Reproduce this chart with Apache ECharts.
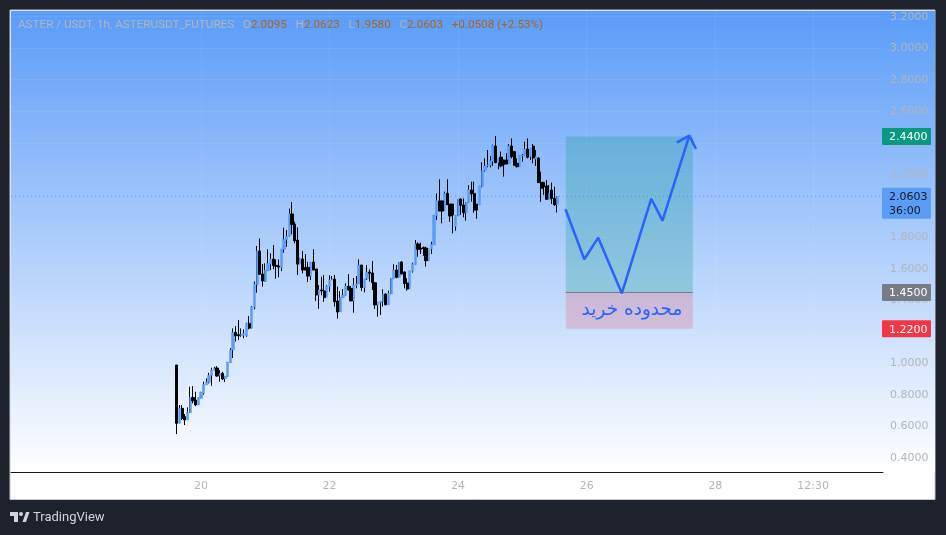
<!DOCTYPE html>
<html><head><meta charset="utf-8">
<style>html,body{margin:0;padding:0;background:#1e222d}#c{width:946px;height:535px}</style>
<script src="https://cdn.jsdelivr.net/npm/echarts@6/dist/echarts.min.js"></script>
</head><body><div id="c"></div>
<script>
const firstHour = -9; // hours relative to day 20 00:00
const opens = [.990,.620,.715,.662,.641,.687,.784,.768,.736,.778,
.810,.863,.880,.924,.956,.971,.924,.937,.903,.916,
1.004,1.085,1.197,1.182,1.178,1.178,1.176,1.254,1.224,1.356,
1.499,1.713,1.567,1.520,1.588,1.630,1.662,1.622,1.618,1.607,
1.724,1.785,1.808,1.948,1.884,1.783,1.630,1.662,1.609,1.609,
1.554,1.643,1.599,1.434,1.466,1.459,1.421,1.487,1.529,1.535,
1.396,1.326,1.417,1.432,1.491,1.476,1.396,1.495,1.504,1.624,
1.481,1.536,1.580,1.574,1.512,1.371,1.385,1.392,1.440,1.371,
1.440,1.536,1.593,1.546,1.643,1.580,1.510,1.472,1.584,1.627,
1.758,1.730,1.736,1.732,1.652,1.726,1.751,1.937,2.031,2.031,
1.969,2.079,2.011,2.011,1.868,1.935,2.043,2.005,1.956,2.020,
2.100,2.079,2.011,2.005,2.122,2.223,2.253,2.257,2.282,2.379,
2.274,2.308,2.291,2.291,2.265,2.379,2.344,2.269,2.248,2.316,
2.318,2.360,2.312,2.379,2.297,2.303,2.149,2.149,2.126,2.041,
2.100,2.047,2.0095];
const closes = [.620,.715,.651,.641,.691,.784,.763,.736,.784,.818,
.867,.884,.924,.958,.968,.920,.937,.901,.920,1.009,
1.085,1.197,1.176,1.176,1.182,1.191,1.254,1.224,1.360,1.504,
1.713,1.565,1.523,1.592,1.635,1.662,1.620,1.616,1.611,1.726,
1.787,1.806,1.948,1.882,1.779,1.630,1.662,1.592,1.592,1.554,
1.643,1.592,1.434,1.466,1.461,1.417,1.491,1.529,1.535,1.391,
1.326,1.419,1.434,1.491,1.466,1.396,1.497,1.504,1.624,1.481,
1.536,1.578,1.572,1.512,1.371,1.388,1.396,1.440,1.371,1.445,
1.540,1.593,1.546,1.643,1.567,1.506,1.472,1.588,1.631,1.758,
1.724,1.724,1.728,1.652,1.728,1.756,1.942,2.033,1.967,1.967,
2.079,2.007,1.935,1.942,1.940,2.043,2.003,1.956,2.022,2.100,
2.075,1.973,1.973,2.126,2.223,2.253,2.259,2.286,2.382,2.274,
2.301,2.253,2.261,2.265,2.379,2.312,2.257,2.248,2.320,2.322,
2.360,2.308,2.365,2.303,2.312,2.147,2.111,2.121,2.041,2.079,
2.047,2.007,2.0603];
const highs = [.990,.736,.736,.679,.721,.852,.856,.820,.784,.820,
.884,.905,.941,.973,.979,.983,.958,.947,.920,1.009,
1.097,1.222,1.237,1.275,1.222,1.216,1.258,1.301,1.364,1.520,
1.745,1.793,1.630,1.635,1.724,1.698,1.751,1.660,1.660,1.726,
1.861,1.846,1.982,2.024,1.899,1.863,1.666,1.713,1.694,1.645,
1.643,1.724,1.599,1.497,1.550,1.561,1.497,1.559,1.554,1.561,
1.487,1.459,1.472,1.508,1.567,1.491,1.542,1.554,1.660,1.624,
1.536,1.624,1.597,1.650,1.512,1.388,1.396,1.470,1.445,1.462,
1.540,1.629,1.624,1.643,1.648,1.584,1.540,1.588,1.639,1.783,
1.768,1.766,1.741,1.741,1.728,1.772,1.942,2.079,2.168,2.031,
2.090,2.168,2.011,2.011,1.940,2.043,2.047,2.047,2.022,2.130,
2.153,2.153,2.011,2.126,2.276,2.301,2.354,2.316,2.388,2.443,
2.301,2.344,2.291,2.333,2.392,2.428,2.344,2.301,2.320,2.329,
2.407,2.428,2.365,2.392,2.354,2.308,2.217,2.149,2.164,2.132,
2.147,2.121,2.0623];
const lows = [.552,.620,.641,.609,.641,.687,.746,.729,.736,.778,
.801,.863,.873,.858,.956,.916,.884,.894,.882,.916,
1.004,1.034,1.138,1.148,1.169,1.159,1.169,1.216,1.222,1.343,
1.449,1.561,1.487,1.518,1.588,1.592,1.597,1.537,1.546,1.586,
1.702,1.740,1.804,1.819,1.762,1.561,1.630,1.571,1.592,1.516,
1.529,1.592,1.396,1.347,1.432,1.391,1.421,1.455,1.529,1.360,
1.284,1.326,1.417,1.432,1.461,1.396,1.322,1.476,1.504,1.459,
1.451,1.529,1.519,1.466,1.345,1.297,1.307,1.360,1.371,1.371,
1.440,1.536,1.540,1.546,1.567,1.476,1.462,1.472,1.576,1.627,
1.677,1.694,1.682,1.614,1.652,1.694,1.751,1.910,1.967,1.889,
1.969,2.007,1.899,1.825,1.842,1.935,1.942,1.927,1.906,2.020,
2.026,1.956,1.918,2.005,2.117,2.217,2.244,2.244,2.253,2.270,
2.231,2.244,2.185,2.265,2.265,2.301,2.253,2.244,2.248,2.280,
2.318,2.301,2.291,2.270,2.253,2.147,2.026,2.069,2.037,2.041,
2.011,1.999,1.958];

const priceTicks = [0.4,0.6,0.8,1.0,1.2,1.4,1.6,1.8,2.0,2.2,2.4,2.6,2.8,3.0,3.2];
const timeTicks = [0,48,96,144,192,228.5];
const timeLabels = ['20','22','24','26','28','12:30'];

const zoneHours = [136.2,183.6];
const targetTop = 2.44, entryLevel = 1.45, stopLevel = 1.22;
const pathHours = [136.1,143.1,148.3,157.1,168.1,172.3,182.3];
const pathPrices = [1.978,1.661,1.798,1.445,2.045,1.906,2.445];
const arrowHours = [177.6,182.3,184.8];
const arrowPrices = [2.401,2.445,2.361];
const zoneText = 'محدوده خرید';
const lastPrice = 2.0603;
const tagPrices = [2.44,2.0603,1.45,1.22];
const tagTexts = ['2.4400','2.0603','1.4500','1.2200'];
const tagColors = ['#089981','#5b9cf6','#787b86','#f23645'];

const hourMin = -70.9, hourMax = 254.6, priceMin = 0.311, priceMax = 3.236;
const UP = '#5b9cf6', FONT = '"DejaVu Sans",sans-serif';

const candle = (o,i)=>[firstHour+i,o,closes[i],lows[i],highs[i]];
const upCandles = opens.map(candle).filter(d=>d[2]>=d[1]);
const downCandles = opens.map(candle).filter(d=>d[2]<d[1]);
const upBodies = upCandles.map(d=>[d[0],d[1],d[2],d[1],d[2]]);

const chart = echarts.init(document.getElementById('c'),null,{renderer:'canvas'});
chart.setOption({
  animation:false,
  backgroundColor:'#1e222d',
  title:{left:18,top:19,padding:0,
    text:'{g|ASTER / USDT, 1h, ASTERUSDT_FUTURES   O}{v|2.0095}{g|   H}{v|2.0623}{g|   L}{v|1.9580}{g|   C}{v|2.0603}{v|   +0.0508 (+2.53%)}',
    textStyle:{rich:{
      g:{color:'#b2b5be',fontFamily:'Roboto',fontSize:11.7,fontWeight:'normal'},
      v:{color:'#a9651e',fontFamily:'Roboto',fontSize:11.7,fontWeight:'normal'}}}},
  graphic:[
    {type:'rect',z:-10,shape:{x:10,y:10,width:925,height:489.5},style:{fill:'#fff',stroke:'#c4c6cc',lineWidth:1}},
    {type:'rect',z:-9,shape:{x:11,y:11,width:924,height:461},
      style:{fill:new echarts.graphic.LinearGradient(0,0,0,1,[{offset:0,color:'#5a9cf8'},{offset:1,color:'#ffffff'}])}},
    {type:'text',z:5,x:33,y:511,style:{text:'TradingView',fill:'#d1d4dc',font:'13px Roboto'}},
    {type:'polygon',z:5,shape:{points:[[10,512],[18,512],[18,522],[14,522],[14,516],[10,516]]},style:{fill:'#d1d4dc'}},
    {type:'polygon',z:5,shape:{points:[[22.5,522],[26,512],[29.5,512],[26,522]]},style:{fill:'#d1d4dc'}},
    {type:'circle',z:5,shape:{cx:21,cy:514,r:2},style:{fill:'#d1d4dc'}}
  ],
  grid:{left:11,right:63,top:11,bottom:63,containLabel:false},
  xAxis:{type:'value',min:hourMin,max:hourMax,
    axisLine:{show:true,onZero:false,lineStyle:{color:'#131722',width:1}},
    axisTick:{show:false,customValues:timeTicks},
    splitLine:{show:true,lineStyle:{color:'rgba(255,255,255,0.07)',width:1}},
    axisLabel:{customValues:timeTicks,margin:9,color:'#b2b5be',fontFamily:FONT,fontSize:11,
      formatter:v=>timeLabels[timeTicks.indexOf(v)]}},
  yAxis:{type:'value',position:'right',min:priceMin,max:priceMax,
    axisLine:{show:false},
    axisTick:{show:false,customValues:priceTicks},
    splitLine:{show:true,lineStyle:{color:'rgba(255,255,255,0.07)',width:1}},
    axisLabel:{customValues:priceTicks,margin:7,color:'#b2b5be',fontFamily:FONT,fontSize:11,padding:[2,0,0,0],
      formatter:v=>v.toFixed(4)}},
  series:[
    {type:'line',z:1,data:[[hourMin,lastPrice],[hourMax,lastPrice]],showSymbol:false,silent:true,
      lineStyle:{color:UP,width:1,type:[1,3]}},
    {type:'candlestick',z:3,data:upCandles,encode:{x:0,y:[1,2,3,4]},barWidth:1,
      itemStyle:{color:'#000',color0:'#000',borderColor:'#000',borderColor0:'#000',borderWidth:1}},
    {type:'candlestick',z:4,data:upBodies,encode:{x:0,y:[1,2,3,4]},barWidth:2.7,
      itemStyle:{color:UP,color0:UP,borderColor:UP,borderColor0:UP,borderWidth:0.5}},
    {type:'candlestick',z:4,data:downCandles,encode:{x:0,y:[1,2,3,4]},barWidth:2.7,
      itemStyle:{color:'#000',color0:'#000',borderColor:'#000',borderColor0:'#000',borderWidth:1}},
    {type:'custom',z:5,coordinateSystem:'cartesian2d',
      data:[[zoneHours[0],zoneHours[1],targetTop,entryLevel,0],[zoneHours[0],zoneHours[1],entryLevel,stopLevel,1]],
      encode:{x:[0,1],y:[2,3]},
      renderItem:(p,api)=>{
        const a=api.coord([api.value(0),api.value(2)]), b=api.coord([api.value(1),api.value(3)]);
        const up=api.value(4)===0;
        return {type:'rect',shape:{x:a[0],y:a[1],width:b[0]-a[0],height:b[1]-a[1]},
          style:{fill:up?'rgba(8,153,129,0.25)':'rgba(242,54,69,0.2)'}};
      }},
    {type:'line',z:6,data:[[zoneHours[0],entryLevel],[zoneHours[1],entryLevel]],showSymbol:false,silent:true,
      lineStyle:{color:'#787b86',width:1}},
    {type:'custom',z:7,coordinateSystem:'cartesian2d',data:[[(zoneHours[0]+zoneHours[1])/2+1,(entryLevel+stopLevel)/2]],
      encode:{x:0,y:1},
      renderItem:(p,api)=>{
        const c=api.coord([api.value(0),api.value(1)]);
        return {type:'text',x:c[0],y:c[1],style:{text:zoneText,fill:'#2962ff',font:'18.5px "DejaVu Sans"',align:'center',verticalAlign:'middle'}};
      }},
    {type:'line',z:8,data:pathHours.map((h,i)=>[h,pathPrices[i]]),showSymbol:false,silent:true,
      lineStyle:{color:'#2962ff',width:2.5},clip:false},
    {type:'line',z:8,data:arrowHours.map((h,i)=>[h,arrowPrices[i]]),showSymbol:false,silent:true,
      lineStyle:{color:'#2962ff',width:2.5},clip:false},
    {type:'custom',z:9,coordinateSystem:'cartesian2d',clip:false,
      data:tagPrices.map((v,i)=>[hourMax,v,i]),encode:{x:0,y:1},
      renderItem:(p,api)=>{
        const i=api.value(2), y=api.coord([hourMax,api.value(1)])[1], x=p.coordSys.x+p.coordSys.width-1;
        const two=i===1, h=two?31:17, w=49;
        const top=y-8.5;
        const kids=[{type:'rect',shape:{x:x,y:top,width:w,height:h,r:1},style:{fill:tagColors[i]}},
          {type:'text',x:x+7,y:top+9.5,style:{text:tagTexts[i],fill:two?'#131722':'#fff',font:'11px "DejaVu Sans"',verticalAlign:'middle'}}];
        if(two) kids.push({type:'text',x:x+7,y:top+23,style:{text:'36:00',fill:'#131722',font:'11px "DejaVu Sans"',verticalAlign:'middle'}});
        return {type:'group',children:kids};
      }}
  ]
});
</script></body></html>
